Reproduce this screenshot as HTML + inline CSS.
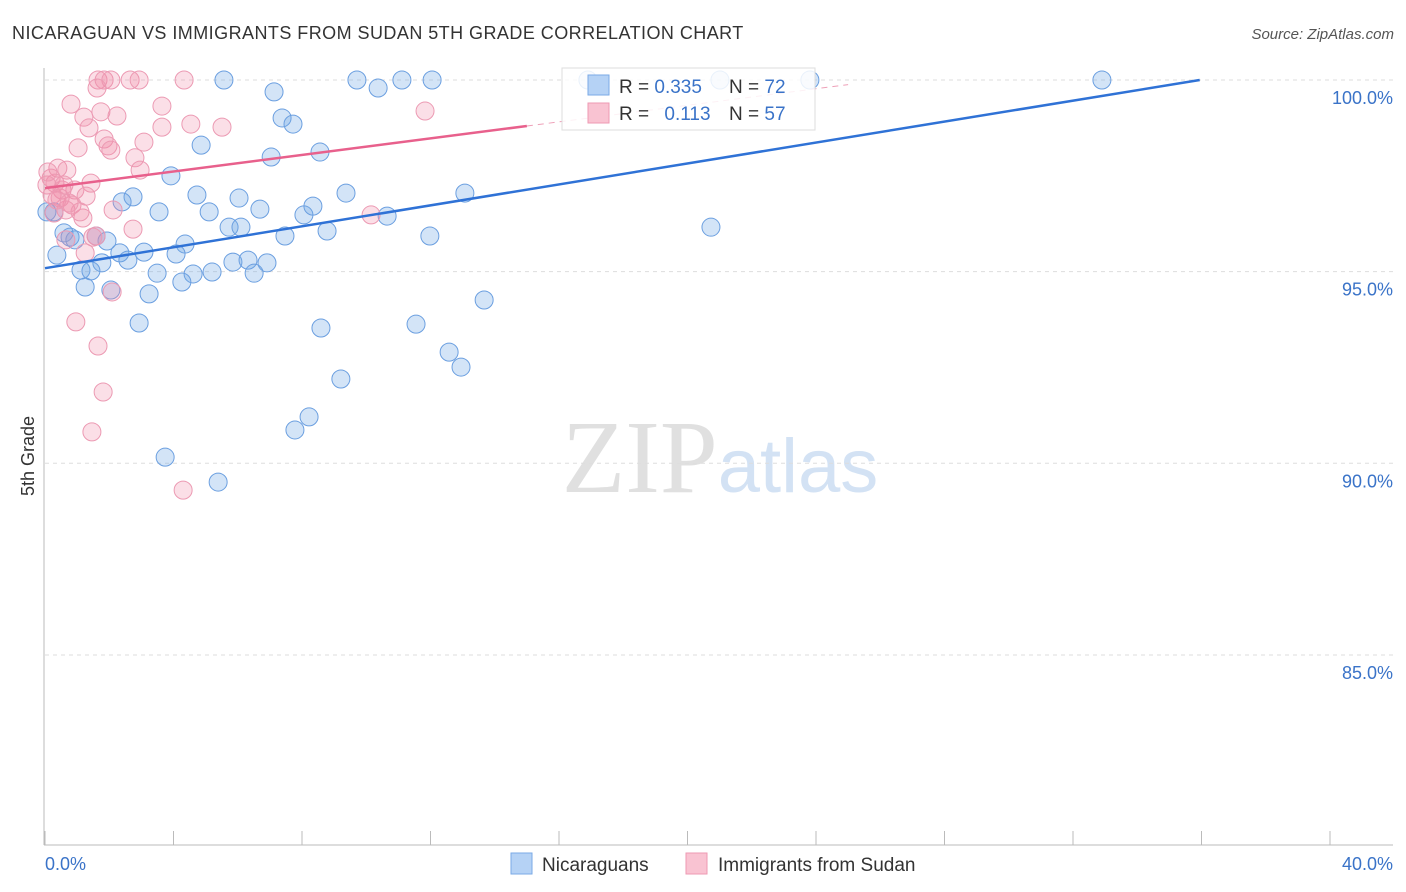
<!DOCTYPE html>
<html><head><meta charset="utf-8"><style>
body{margin:0;background:#fff;width:1406px;height:892px;overflow:hidden;font-family:"Liberation Sans",sans-serif}
svg{display:block}
</style></head><body>
<svg id="chart" width="1406" height="892">
<text x="12" y="39" font-size="18" fill="#333" letter-spacing="0.45">NICARAGUAN VS IMMIGRANTS FROM SUDAN 5TH GRADE CORRELATION CHART</text>
<text x="1394" y="39" font-size="15" fill="#555" font-style="italic" text-anchor="end">Source: ZipAtlas.com</text>
<text x="34" y="456" font-size="18" fill="#333" text-anchor="middle" transform="rotate(-90 34 456)">5th Grade</text>
<text x="720" y="492" font-size="104" text-anchor="middle" font-family="Liberation Serif,serif"><tspan fill="#e0e0e0">ZIP</tspan><tspan fill="#d3e2f4" font-family="Liberation Sans,sans-serif" font-size="76">atlas</tspan></text>
<g id="grid"></g><g id="axes"></g><g id="pts"></g><g id="lines"></g>
<g>
<rect x="562" y="68" width="253" height="62" fill="#fff" fill-opacity="0.85" stroke="#ddd"/>
<rect x="588" y="75" width="21" height="20" fill="#b5d2f5" stroke="#7aaae6"/>
<rect x="588" y="103" width="21" height="20" fill="#f9c3d2" stroke="#ee9ab3"/>
<text x="619" y="93" font-size="19" fill="#333">R = <tspan fill="#3a73c8">0.335</tspan></text>
<text x="729" y="93" font-size="19" fill="#333">N = <tspan fill="#3a73c8">72</tspan></text>
<text x="619" y="120" font-size="19" fill="#333">R = <tspan fill="#3a73c8" dx="10">0.113</tspan></text>
<text x="729" y="120" font-size="19" fill="#333">N = <tspan fill="#3a73c8">57</tspan></text>
</g>
<g>
<rect x="511" y="853" width="21" height="21" fill="#b5d2f5" stroke="#7aaae6"/>
<text x="542" y="871" font-size="19" fill="#333">Nicaraguans</text>
<rect x="686" y="853" width="21" height="21" fill="#f9c3d2" stroke="#ee9ab3"/>
<text x="718" y="871" font-size="19" fill="#333">Immigrants from Sudan</text>
</g>
</svg>
<script>
const yTicks=[100,95,90,85];
const yTickLabels=["100.0%","95.0%","90.0%","85.0%"];
const xTickLabels=["0.0%","40.0%"];
const blueX=[5.57,9.71,10.37,11.11,12.05,16.90,21.01,23.81,32.90,7.13,7.38,7.72,4.86,7.04,8.56,3.92,9.37,13.07,4.73,6.04,2.74,2.40,6.69,3.55,5.11,8.06,8.34,10.65,5.73,6.10,7.47,8.78,11.98,20.73,0.59,0.78,0.93,1.59,1.93,0.37,0.28,2.33,3.08,4.36,4.08,2.58,1.77,5.85,6.32,6.91,1.12,1.43,3.49,4.61,5.20,6.51,4.26,1.25,2.05,3.24,2.93,8.59,11.55,13.67,12.58,12.95,9.21,8.22,7.78,3.74,5.39,0.06];
const blueY=[100,100,99.79,100,100,100,100,100,100,99.69,99.01,98.85,98.30,97.99,98.12,97.50,97.05,97.05,97.00,96.92,96.95,96.82,96.63,96.56,96.56,96.48,96.71,96.45,96.16,96.16,95.93,96.06,95.93,96.16,96.01,95.90,95.83,95.93,95.80,95.43,96.56,95.49,95.51,95.72,95.46,95.30,95.23,95.25,95.30,95.23,95.04,95.02,94.96,94.94,94.99,94.96,94.73,94.60,94.52,94.42,93.66,93.53,93.63,94.26,92.90,92.51,92.20,91.21,90.87,90.16,89.51,96.56];
const pinkX=[1.65,1.84,2.05,2.65,2.93,4.33,1.62,0.81,3.64,1.21,1.74,2.24,4.54,3.64,5.51,11.83,1.37,1.84,1.03,1.96,2.05,3.08,2.80,2.96,0.40,0.68,0.19,0.31,0.06,0.53,1.43,0.93,0.22,1.28,0.47,0.84,0.65,0.28,1.18,2.12,2.74,1.59,1.25,0.65,10.15,2.09,0.96,1.65,1.81,1.46,4.30,0.37,0.09,1.09,0.59,0.75,1.49];
const pinkY=[100,100,100,100,100,100,99.79,99.37,99.32,99.03,99.17,99.06,98.85,98.77,98.77,99.19,98.75,98.46,98.23,98.28,98.17,98.38,97.97,97.65,97.70,97.65,97.44,97.31,97.26,97.13,97.31,97.13,97.00,96.97,96.92,96.74,96.61,96.53,96.40,96.61,96.11,95.93,95.49,95.83,96.48,94.47,93.69,93.06,91.86,90.82,89.30,96.87,97.60,96.56,97.26,96.79,95.90];
const blueTrend=[95.09,0.1366];
const pinkTrend=[97.18,0.108];
const NS="http://www.w3.org/2000/svg";
const X0=45,X1=1330,Y100=80,PXPCT=38.33;
const xs=v=>X0+v*(X1-X0)/40;
const ys=v=>Y100+(100-v)*PXPCT;
function mk(tag,parent,attrs){const e=document.createElementNS(NS,tag);for(const k in attrs)e.setAttribute(k,attrs[k]);parent.appendChild(e);return e;}
const grid=document.getElementById('grid'),axes=document.getElementById('axes'),pts=document.getElementById('pts'),lines=document.getElementById('lines');
yTicks.forEach((t,i)=>{
 const l=mk('line',grid,{x1:45,x2:1393,y1:ys(t),y2:ys(t),stroke:'#ddd','stroke-dasharray':'4,4'});
 
 
 const tx=mk('text',grid,{x:1393,y:ys(t)+24,'font-size':18,fill:'#3a73c8','text-anchor':'end'});
 tx.textContent=yTickLabels[i];
 
 
});
const ya=mk('line',axes,{x1:44,x2:44,y1:68,y2:845,stroke:'#bbb'});


const xa=mk('line',axes,{x1:44,x2:1393,y1:845,y2:845,stroke:'#bbb'});


for(let i=0;i<=10;i++){
 const v=i*4;
 const t=mk('line',axes,{x1:xs(v),x2:xs(v),y1:831,y2:845,stroke:'#bbb'});
 
 
}
const xl0=mk('text',axes,{x:45,y:870,'font-size':18,fill:'#3a73c8'});xl0.textContent=xTickLabels[0];


const xl1=mk('text',axes,{x:1393,y:870,'font-size':18,fill:'#3a73c8','text-anchor':'end'});xl1.textContent=xTickLabels[1];


blueX.forEach((x,i)=>{
 const c=mk('circle',pts,{cx:xs(x),cy:ys(blueY[i]),r:9,fill:'rgba(110,165,230,0.3)',stroke:'#6b9fe0','stroke-width':1});
 
 
});
pinkX.forEach((x,i)=>{
 const c=mk('circle',pts,{cx:xs(x),cy:ys(pinkY[i]),r:9,fill:'rgba(240,140,170,0.28)',stroke:'#ec9ab3','stroke-width':1});
 
 
});
const bxEnd=(100-blueTrend[0])/blueTrend[1];
const bl=mk('line',lines,{x1:xs(0),y1:ys(blueTrend[0]),x2:xs(bxEnd),y2:ys(100),stroke:'#2f72d6','stroke-width':2.5});


const pl=mk('line',lines,{x1:xs(0),y1:ys(pinkTrend[0]),x2:xs(15),y2:ys(pinkTrend[0]+15*pinkTrend[1]),stroke:'#e8608c','stroke-width':2.5});


const pd=mk('line',lines,{x1:xs(15),y1:ys(pinkTrend[0]+15*pinkTrend[1]),x2:xs(25),y2:ys(pinkTrend[0]+25*pinkTrend[1]),stroke:'#eea0b8','stroke-width':1,'stroke-dasharray':'6,5'});


</script>
</body></html>
